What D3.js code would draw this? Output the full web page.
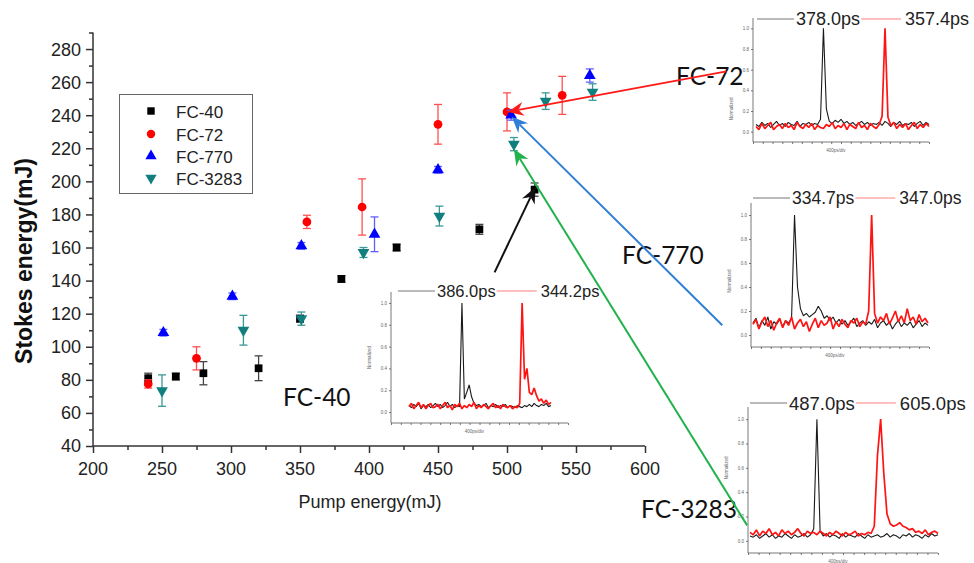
<!DOCTYPE html>
<html>
<head>
<meta charset="utf-8">
<script src="https://cdn.jsdelivr.net/npm/d3@7.9.0/dist/d3.min.js"></script>
<style>
  body { margin: 0; background: #fff; }
  svg { display: block; }
  text { font-family: "Liberation Sans", Arial, sans-serif; }
</style>
</head>
<body>
<svg width="974" height="563"></svg>
<script>
// ---- main scatter data (pump energy mJ, stokes energy mJ, error) ----
const fc40X = [240, 260, 280, 320, 350, 380, 420, 480, 520];
const fc40Y = [81, 82, 84, 87, 117, 141, 160, 171, 195];
const fc40Err = [3, 2, 7, 7.5, 2, 2, 2, 3, 4];

const fc72X = [240, 275, 355, 395, 450, 500, 540];
const fc72Y = [77.5, 93, 175.5, 184.5, 234.5, 242, 252];
const fc72Err = [2.5, 7, 4, 17, 12, 11.5, 11.5];

const fc770X = [251, 301, 351, 404, 450, 503, 560];
const fc770Y = [108.5, 130.5, 161, 168, 207, 240, 264];
const fc770Err = [2, 2, 2, 10.5, 2, 3, 4];

const fc3283X = [250, 309, 351, 396, 451, 505, 528, 562];
const fc3283Y = [73.5, 110, 117, 157, 179, 222.5, 248.5, 254];
const fc3283Err = [9.5, 9, 4, 3, 6, 4, 5, 5];

const xTicks = [200, 250, 300, 350, 400, 450, 500, 550, 600];
const yTicks = [40, 60, 80, 100, 120, 140, 160, 180, 200, 220, 240, 260, 280];

// pulse traces (normalized intensity)
const pulse72Black = [0.07,0.05,0.09,0.06,0.08,0.04,0.07,0.10,0.06,0.08,0.05,0.09,0.07,0.06,0.10,0.05,0.08,0.07,0.09,0.06,0.08,0.07,0.12,1.0,0.22,0.10,0.08,0.11,0.09,0.12,0.08,0.10,0.07,0.09,0.06,0.08,0.10,0.07,0.09,0.06,0.08,0.07,0.09,0.06,0.10,0.08,0.05,0.09,0.07,0.10,0.06,0.08,0.07,0.09,0.05,0.08,0.10,0.06,0.09,0.07];
const pulse72Red = [0.05,0.02,0.08,0.03,0.06,0.09,0.02,0.05,0.07,0.03,0.08,0.04,0.06,0.02,0.09,0.05,0.03,0.07,0.04,0.08,0.02,0.06,0.04,0.03,0.07,0.05,0.09,0.03,0.06,0.04,0.08,0.02,0.07,0.05,0.03,0.09,0.04,0.06,0.02,0.08,0.05,0.03,0.07,0.15,1.0,0.14,0.06,0.09,0.03,0.07,0.04,0.08,0.02,0.06,0.09,0.03,0.07,0.04,0.08,0.05];

const pulse770Black = [0.10,0.14,0.06,0.12,0.08,0.15,0.05,0.11,0.09,0.13,0.07,0.12,0.10,0.14,1.0,0.40,0.22,0.16,0.18,0.15,0.17,0.19,0.24,0.20,0.14,0.16,0.12,0.15,0.10,0.13,0.09,0.12,0.08,0.11,0.14,0.07,0.10,0.12,0.08,0.11,0.09,0.13,0.06,0.10,0.12,0.08,0.11,0.05,0.09,0.12,0.07,0.10,0.08,0.11,0.06,0.09,0.12,0.07,0.10,0.08];
const pulse770Red = [0.09,0.13,0.05,0.11,0.15,0.07,0.12,0.04,0.10,0.14,0.06,0.12,0.08,0.15,0.05,0.10,0.13,0.07,0.11,0.03,0.09,0.14,0.06,0.12,0.08,0.10,0.15,0.05,0.11,0.07,0.13,0.09,0.06,0.12,0.10,0.14,0.07,0.11,0.09,0.20,1.0,0.18,0.10,0.15,0.12,0.18,0.09,0.14,0.20,0.11,0.16,0.10,0.22,0.12,0.15,0.09,0.17,0.11,0.14,0.10];

const pulse3283Black = [0.04,0.03,0.05,0.02,0.04,0.06,0.03,0.05,0.02,0.04,0.03,0.06,0.04,0.02,0.05,0.03,0.04,0.06,0.03,0.05,0.10,1.0,0.08,0.04,0.06,0.03,0.05,0.04,0.02,0.06,0.03,0.05,0.04,0.03,0.06,0.04,0.02,0.05,0.03,0.04,0.05,0.03,0.04,0.06,0.03,0.05,0.04,0.02,0.05,0.04,0.06,0.03,0.05,0.04,0.02,0.05,0.03,0.06,0.04,0.05];
const pulse3283Red = [0.07,0.05,0.09,0.04,0.08,0.06,0.10,0.05,0.07,0.04,0.09,0.06,0.08,0.05,0.07,0.10,0.06,0.04,0.08,0.06,0.07,0.05,0.08,0.06,0.04,0.07,0.05,0.08,0.06,0.04,0.07,0.05,0.06,0.08,0.04,0.06,0.05,0.07,0.06,0.12,0.70,1.0,0.55,0.22,0.14,0.12,0.13,0.15,0.12,0.11,0.09,0.10,0.07,0.08,0.06,0.09,0.05,0.07,0.08,0.06];

const pulse40Black = [0.06,0.04,0.07,0.05,0.08,0.03,0.06,0.05,0.07,0.04,0.06,0.08,0.05,0.07,0.04,0.06,0.09,0.05,0.07,0.04,0.06,0.05,1.0,0.12,0.18,0.25,0.14,0.08,0.06,0.07,0.05,0.06,0.08,0.04,0.06,0.05,0.07,0.04,0.06,0.05,0.07,0.04,0.06,0.05,0.04,0.06,0.05,0.04,0.06,0.05,0.07,0.05,0.08,0.06,0.05,0.07,0.06,0.08,0.05,0.06];
const pulse40Red = [0.05,0.08,0.03,0.06,0.09,0.04,0.07,0.03,0.06,0.08,0.04,0.05,0.07,0.03,0.06,0.09,0.04,0.06,0.02,0.07,0.05,0.08,0.03,0.06,0.04,0.07,0.05,0.09,0.03,0.06,0.04,0.07,0.05,0.03,0.06,0.08,0.04,0.06,0.03,0.07,0.05,0.04,0.06,0.03,0.05,0.04,0.08,1.0,0.30,0.40,0.18,0.16,0.22,0.15,0.10,0.12,0.08,0.11,0.07,0.09];

const pulseLabels72 = ["378.0ps", "357.4ps"];
const pulseLabels770 = ["334.7ps", "347.0ps"];
const pulseLabels3283 = ["487.0ps", "605.0ps"];
const pulseLabels40 = ["386.0ps", "344.2ps"];
const pulseYTicks = [0, 0.2, 0.4, 0.6, 0.8, 1.0];

// arrows, in main-chart data units: [tailX, tailY, tipX, tipY]
const arrow72 = [659, 266.5, 500.5, 242];
const arrow770 = [656, 113, 503.5, 239];
const arrow3283 = [674, -8, 505, 219.5];
const arrow40 = [491, 145, 520.5, 196.5];

const svg = d3.select("svg");

const x = d3.scaleLinear().domain([200, 600]).range([93, 645]);
const y = d3.scaleLinear().domain([40, 290]).range([446, 32.5]);

// ---- axes ----
const axisColor = "#333";
const gx = svg.append("g").attr("transform", `translate(0,${y(40)})`);
gx.call(d3.axisBottom(x).tickValues(d3.range(200, 601, 25)).tickSize(4).tickFormat(""));
gx.call(g => g.selectAll(".tick line").filter(d => d % 50 === 0).attr("y2", 7));
gx.select(".domain").attr("d", `M${x(200)},0H${x(600)}`);
gx.selectAll("line, path").attr("stroke", axisColor).attr("stroke-width", 1.5);
gx.selectAll(".tickLabel").data(xTicks).join("text")
  .attr("x", d => x(d)).attr("y", 29).attr("text-anchor", "middle")
  .attr("font-size", 18).attr("fill", "#222").text(d => d);

const gy = svg.append("g").attr("transform", `translate(${x(200)},0)`);
gy.call(d3.axisLeft(y).tickValues(d3.range(40, 291, 10)).tickSize(4).tickFormat(""));
gy.call(g => g.selectAll(".tick line").filter(d => d % 20 === 0).attr("x2", -7));
gy.select(".domain").attr("d", `M0,${y(40)}V${y(290)}`);
gy.selectAll("line, path").attr("stroke", axisColor).attr("stroke-width", 1.5);
gy.selectAll(".tickLabel").data(yTicks).join("text")
  .attr("x", -12).attr("y", d => y(d)).attr("dy", "0.36em").attr("text-anchor", "end")
  .attr("font-size", 18).attr("fill", "#222").text(d => d);

svg.append("text").attr("x", 370).attr("y", 508).attr("text-anchor", "middle")
  .attr("font-size", 18).attr("fill", "#222").text("Pump energy(mJ)");
svg.append("text").attr("transform", "translate(32,261) rotate(-90)")
  .attr("text-anchor", "middle").attr("font-size", 23).attr("font-weight", "bold")
  .attr("fill", "#111").text("Stokes energy(mJ)");

// ---- scatter with error bars ----
const series = [
  { name: "FC-40", xs: fc40X, ys: fc40Y, err: fc40Err, color: "#000", errColor: "#444", shape: d3.symbolSquare, size: 60, rot: 0 },
  { name: "FC-72", xs: fc72X, ys: fc72Y, err: fc72Err, color: "#ff0000", errColor: "#ff5050", shape: d3.symbolCircle, size: 60, rot: 0 },
  { name: "FC-770", xs: fc770X, ys: fc770Y, err: fc770Err, color: "#0000ff", errColor: "#6060ff", shape: d3.symbolTriangle, size: 60, rot: 0 },
  { name: "FC-3283", xs: fc3283X, ys: fc3283Y, err: fc3283Err, color: "#127f7f", errColor: "#3a9898", shape: d3.symbolTriangle, size: 60, rot: 180 }
];

series.forEach(s => {
  const pts = s.xs.map((v, i) => ({ x: v, y: s.ys[i], e: s.err[i] }));
  const g = svg.append("g");
  const eb = g.selectAll(".eb").data(pts).join("g").attr("stroke", s.errColor).attr("stroke-width", 1.3);
  eb.append("line").attr("x1", d => x(d.x)).attr("x2", d => x(d.x))
    .attr("y1", d => y(d.y - d.e)).attr("y2", d => y(d.y + d.e));
  eb.append("line").attr("x1", d => x(d.x) - 4).attr("x2", d => x(d.x) + 4)
    .attr("y1", d => y(d.y + d.e)).attr("y2", d => y(d.y + d.e));
  eb.append("line").attr("x1", d => x(d.x) - 4).attr("x2", d => x(d.x) + 4)
    .attr("y1", d => y(d.y - d.e)).attr("y2", d => y(d.y - d.e));
  g.selectAll(".m").data(pts).join("path")
    .attr("d", d3.symbol(s.shape, s.size))
    .attr("transform", d => `translate(${x(d.x)},${y(d.y)}) rotate(${s.rot})`)
    .attr("fill", s.color);
});

// ---- legend ----
const legend = svg.append("g");
legend.append("rect").attr("x", 119.5).attr("y", 94.5).attr("width", 133).attr("height", 99)
  .attr("fill", "#fff").attr("stroke", "#666").attr("stroke-width", 1);
const legendRows = [111, 134, 156, 178];
series.forEach((s, i) => {
  legend.append("path").attr("d", d3.symbol(s.shape, 55))
    .attr("transform", `translate(151,${legendRows[i]}) rotate(${s.rot})`).attr("fill", s.color);
  legend.append("text").attr("x", 176).attr("y", legendRows[i] + 7)
    .attr("font-size", 17).attr("fill", "#222").text(s.name);
});

// ---- pulse insets ----
const insets = [
  { left: 753, right: 929, top: 18, bottom: 142, dataL: 756, dataR: 929, legendX: 757, legendY: 19, font: 18, normAt: 0.22, labels: pulseLabels72, black: pulse72Black, red: pulse72Red },
  { left: 751, right: 929, top: 203, bottom: 347, dataL: 753, dataR: 928, legendX: 753, legendY: 198, font: 17.5, normAt: 0.45, labels: pulseLabels770, black: pulse770Black, red: pulse770Red },
  { left: 748, right: 938, top: 407, bottom: 553, dataL: 750, dataR: 938, legendX: 750, legendY: 403, font: 18.5, normAt: 0.6, labels: pulseLabels3283, black: pulse3283Black, red: pulse3283Red },
  { left: 391, right: 568, top: 292, bottom: 423, dataL: 409, dataR: 551, legendX: 398, legendY: 291, font: 16.5, normAt: 0.5, labels: pulseLabels40, black: pulse40Black, red: pulse40Red }
];

insets.forEach(p => {
  const g = svg.append("g");
  const iy = d3.scaleLinear().domain([-0.1, 1.1]).range([p.bottom, p.top]);
  const ix = d3.scaleLinear().domain([0, 18]).range([p.left, p.right]);

  const ax = g.append("g").attr("transform", `translate(0,${p.bottom})`)
    .call(d3.axisBottom(ix).ticks(18).tickSize(2).tickFormat(""));
  const ay = g.append("g").attr("transform", `translate(${p.left},0)`)
    .call(d3.axisLeft(iy).tickValues(pulseYTicks).tickSize(2).tickPadding(2).tickFormat(d3.format(".1f")));
  [ax, ay].forEach(a => {
    a.selectAll("line, path").attr("stroke", "#555").attr("stroke-width", 0.8);
    a.select(".domain").attr("d", a === ax ? `M${p.left},0H${p.right}` : `M0,${p.bottom}V${p.top}`);
  });
  ay.selectAll("text").attr("font-size", 4.5).attr("fill", "#666");

  g.append("text").attr("x", (p.left + p.right) / 2 - 5).attr("y", p.bottom + 10)
    .attr("text-anchor", "middle").attr("font-size", 4.5).attr("fill", "#666").text("400ps/div");
  g.append("text").attr("transform", `translate(${p.left - 20},${iy(p.normAt)}) rotate(-90)`)
    .attr("text-anchor", "middle").attr("font-size", 4.5).attr("fill", "#666").text("Normalized");

  [[p.black, "#1a1a1a", 1.1], [p.red, "#ff1414", 1.7]].forEach(([vals, col, w]) => {
    const tx = d3.scaleLinear().domain([0, vals.length - 1]).range([p.dataL, p.dataR]);
    g.append("path").datum(vals)
      .attr("d", d3.line().x((d, i) => tx(i)).y(d => iy(d)))
      .attr("fill", "none").attr("stroke", col).attr("stroke-width", w).attr("stroke-linejoin", "bevel");
  });

  // legend row: line, label, line, label
  const ty = p.legendY + p.font * 0.36;
  let cx = p.legendX;
  g.append("line").attr("x1", cx).attr("x2", cx + 37).attr("y1", p.legendY).attr("y2", p.legendY)
    .attr("stroke", "#777").attr("stroke-width", 1);
  cx += 39;
  const t1 = g.append("text").attr("x", cx).attr("y", ty).attr("font-size", p.font).attr("fill", "#222").text(p.labels[0]);
  cx += t1.node().getComputedTextLength() + 1;
  g.append("line").attr("x1", cx).attr("x2", cx + 40).attr("y1", p.legendY).attr("y2", p.legendY)
    .attr("stroke", "#ff8080").attr("stroke-width", 1);
  cx += 44;
  g.append("text").attr("x", cx).attr("y", ty).attr("font-size", p.font).attr("fill", "#222").text(p.labels[1]);
});

// ---- callout labels ----
const callouts = [
  { text: "FC-72", x: 676, y: 85 },
  { text: "FC-770", x: 622, y: 264 },
  { text: "FC-40", x: 283, y: 406 },
  { text: "FC-3283", x: 641, y: 518 }
];
svg.selectAll(".callout").data(callouts).join("text")
  .attr("x", d => d.x).attr("y", d => d.y)
  .style("font-family", "Lato, 'Open Sans', sans-serif").attr("font-size", 24.5)
  .attr("fill", "#111").text(d => d.text);

// ---- arrows ----
function drawArrow(a, color) {
  const x1 = x(a[0]), y1 = y(a[1]), x2 = x(a[2]), y2 = y(a[3]);
  const ang = Math.atan2(y2 - y1, x2 - x1);
  const ux = Math.cos(ang), uy = Math.sin(ang), nx = -uy, ny = ux;
  const L = 16, W = 7, N = 11;
  svg.append("line").attr("x1", x1).attr("y1", y1)
    .attr("x2", x2 - N * ux).attr("y2", y2 - N * uy)
    .attr("stroke", color).attr("stroke-width", 2);
  const pts = [
    [x2, y2],
    [x2 - L * ux + W * nx, y2 - L * uy + W * ny],
    [x2 - N * ux, y2 - N * uy],
    [x2 - L * ux - W * nx, y2 - L * uy - W * ny]
  ];
  svg.append("polygon").attr("points", pts.map(p => p.join(",")).join(" ")).attr("fill", color);
}
drawArrow(arrow72, "#ff1a1a");
drawArrow(arrow770, "#2f7fd6");
drawArrow(arrow3283, "#22b24c");
drawArrow(arrow40, "#111");
</script>
</body>
</html>
